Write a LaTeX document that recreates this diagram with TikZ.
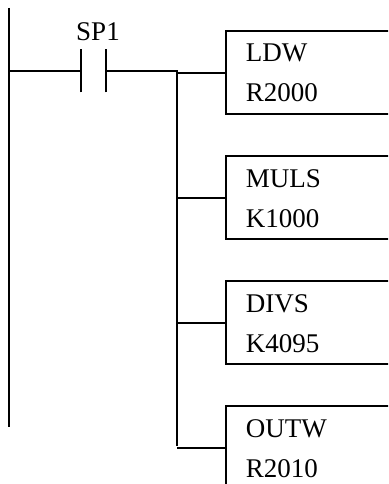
\documentclass[tikz,border=0pt]{standalone}
\usepackage{fontspec}
\setmainfont{Liberation Serif}
\usetikzlibrary{positioning}

\begin{document}
\begin{tikzpicture}[x=1pt, y=-1pt, line width=1.6pt,
    instr/.style={draw, rectangle, anchor=north west, minimum width=220pt,
      minimum height=83pt, inner sep=0pt},
    txt/.style={anchor=base west, inner sep=0pt, font=\fontsize{27}{27}\selectfont}]
  \useasboundingbox (0,0) rectangle (388,484);
  \clip (0,0) rectangle (388,484);
  % left power rail
  \coordinate (railtop) at (9,8);
  \coordinate (railbot) at (9,427);
  \draw (railtop) -- (railbot);
  % contact SP1
  \coordinate (rung) at (9,71);
  \coordinate (cl) at (81,71);
  \coordinate (cr) at (106,71);
  \draw ([yshift=-21.5pt]cl) -- ([yshift=21.5pt]cl);
  \draw ([yshift=-21.5pt]cr) -- ([yshift=21.5pt]cr);
  \node[txt, anchor=base] (sp1) at (98,41) {SP1};
  \draw (rung) -- (cl);
  % output branch
  \coordinate (bustop) at (177,71);
  \coordinate (busbot) at (177,446);
  \draw (cr) -- (bustop) -- (busbot);
  \foreach \op/\arg [count=\i] in {LDW/R2000, MULS/K1000, DIVS/K4095, OUTW/R2010} {
    \pgfmathsetmacro{\ytop}{30+125*(\i-1)}
    \node[instr] (box\i) at (225,\ytop) {};
    \node[txt] (op\i) at (245,\ytop+32) {\op};
    \node[txt] (arg\i) at (245,\ytop+72) {\arg};
    \draw ([yshift=-0.5pt]box\i.west -| bustop) -- ([yshift=-0.5pt]box\i.west);
  }
\end{tikzpicture}
\end{document}
